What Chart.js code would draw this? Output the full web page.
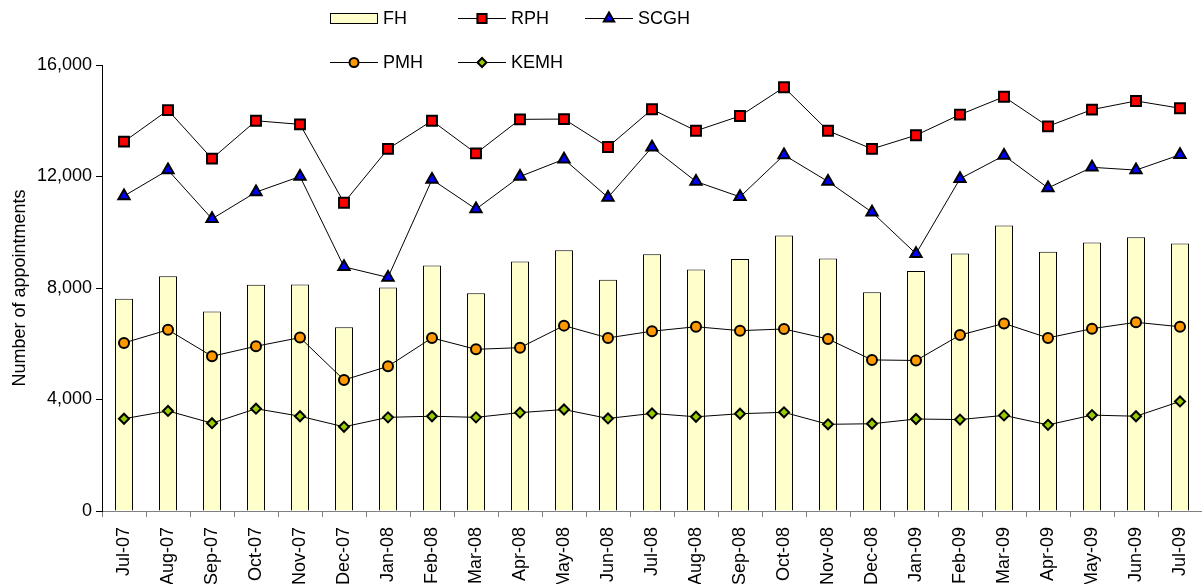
<!DOCTYPE html>
<html>
<head>
<meta charset="utf-8">
<script src="https://cdn.jsdelivr.net/npm/chart.js@4.4.1/dist/chart.umd.min.js"></script>
<style>
  html, body { margin: 0; padding: 0; background: #fff; }
  #wrap { width: 1202px; height: 584px; }
</style>
</head>
<body>
<div id="wrap"><canvas id="appt-canvas" width="1202" height="584"></canvas></div>
<script>
const months = ["Jul-07", "Aug-07", "Sep-07", "Oct-07", "Nov-07", "Dec-07", "Jan-08", "Feb-08", "Mar-08",
  "Apr-08", "May-08", "Jun-08", "Jul-08", "Aug-08", "Sep-08", "Oct-08", "Nov-08", "Dec-08", "Jan-09",
  "Feb-09", "Mar-09", "Apr-09", "May-09", "Jun-09", "Jul-09"];

const fh = [7610, 8420, 7160, 8120, 8130, 6590, 8020, 8810, 7810, 8950, 9350, 8300,
  9210, 8660, 9040, 9880, 9060, 7850, 8610, 9240, 10240, 9300, 9630, 9820, 9600];
const rph = [13250, 14380, 12640, 14000, 13870, 11060, 12990, 14000, 12830, 14050, 14060, 13060,
  14410, 13640, 14170, 15200, 13640, 12990, 13480, 14220, 14860, 13800, 14400, 14710, 14450];
const scgh = [11300, 12230, 10480, 11440, 12000, 8760, 8380, 11890, 10830, 12000, 12620, 11250,
  13050, 11820, 11270, 12770, 11820, 10720, 9230, 11920, 12750, 11590, 12330, 12230, 12780];
const pmh = [6030, 6500, 5550, 5910, 6220, 4700, 5190, 6210, 5800, 5860, 6650, 6210,
  6450, 6610, 6470, 6530, 6170, 5420, 5400, 6310, 6730, 6210, 6540, 6770, 6610];
const kemh = [3310, 3590, 3150, 3670, 3400, 3020, 3360, 3400, 3360, 3530, 3640, 3320,
  3500, 3380, 3490, 3540, 3110, 3130, 3300, 3280, 3430, 3090, 3440, 3400, 3930];

const yTicks = { min: 0, max: 16000, step: 4000 };

const FONT = '"Liberation Sans", Arial, sans-serif';
Chart.defaults.font.family = FONT;
Chart.defaults.font.size = 18;
Chart.defaults.color = "#000";

function lineSet(label, data, fill, style, radius) {
  return {
    type: "line",
    label: label,
    data: data,
    borderColor: "#000000",
    borderWidth: 1,
    tension: 0,
    pointStyle: style,
    pointRadius: radius,
    pointBackgroundColor: fill,
    pointBorderColor: "#000000",
    pointBorderWidth: 2,
    order: 0,
  };
}

// legend drawn like the excel one: line through the marker, two rows
const legendSlots = [
  { x: 330, y: 18 }, { x: 458, y: 18 }, { x: 585, y: 18 },
  { x: 330, y: 62 }, { x: 458, y: 62 },
];

const excelLegend = {
  id: "excelLegend",
  afterDraw: function (chart) {
    const ctx = chart.ctx;
    ctx.save();
    ctx.font = "18px " + FONT;
    ctx.textBaseline = "middle";
    chart.data.datasets.forEach(function (ds, i) {
      const slot = legendSlots[i];
      if (ds.type === "bar") {
        ctx.fillStyle = ds.backgroundColor;
        ctx.fillRect(slot.x, slot.y - 5, 48, 11);
        ctx.strokeStyle = "#000";
        ctx.lineWidth = 1;
        ctx.strokeRect(slot.x + 0.5, slot.y - 5 + 0.5, 47, 10);
      } else {
        ctx.strokeStyle = "#000";
        ctx.lineWidth = 1;
        ctx.beginPath();
        ctx.moveTo(slot.x, slot.y + 0.5);
        ctx.lineTo(slot.x + 48, slot.y + 0.5);
        ctx.stroke();
        ctx.fillStyle = ds.pointBackgroundColor;
        ctx.strokeStyle = "#000";
        ctx.lineWidth = 2;
        Chart.helpers.drawPoint(ctx, {
          pointStyle: ds.pointStyle,
          radius: ds.pointRadius - 0.5,
          rotation: 0,
          borderWidth: 2,
        }, slot.x + 24, slot.y + 0.5);
      }
      ctx.fillStyle = "#000";
      ctx.fillText(ds.label, slot.x + 53, slot.y + 1);
    });
    ctx.restore();
  },
};

const ctx = document.getElementById("appt-canvas").getContext("2d");
const apptChart = new Chart(ctx, {
  type: "bar",
  data: {
    labels: months,
    datasets: [
      {
        type: "bar",
        label: "FH",
        data: fh,
        backgroundColor: "#FFFFCC",
        borderColor: "#000000",
        borderWidth: 1,
        barPercentage: 0.41,
        categoryPercentage: 1.0,
        order: 10,
      },
      lineSet("RPH", rph, "#FF0000", "rect", 7),
      lineSet("SCGH", scgh, "#0000FF", "triangle", 6.5),
      lineSet("PMH", pmh, "#FF9900", "circle", 5),
      lineSet("KEMH", kemh, "#99CC00", "rectRot", 5),
    ],
  },
  options: {
    responsive: false,
    animation: false,
    devicePixelRatio: 1,
    layout: { autoPadding: false, padding: { top: 65, right: 0, left: 0, bottom: 0 } },
    plugins: {
      legend: { display: false },
      tooltip: { enabled: false },
    },
    scales: {
      x: {
        offset: true,
        grid: { drawOnChartArea: false, tickLength: 6, color: "#808080", offset: true },
        border: { color: "#808080" },
        ticks: { minRotation: 90, maxRotation: 90, autoSkip: false, padding: 10, color: "#000" },
        afterFit: function (scale) {
          scale.height = 73;
          scale.paddingLeft = 0;
          scale.paddingRight = 0;
        },
      },
      y: {
        min: yTicks.min,
        max: yTicks.max,
        grid: { drawOnChartArea: false, tickLength: 6, color: "#000" },
        border: { color: "#000" },
        ticks: { stepSize: yTicks.step, padding: 4, color: "#000" },
        title: { display: true, text: "Number of appointments", color: "#000", padding: { top: 9, bottom: 4 } },
        afterFit: function (scale) { scale.width = 102; },
      },
    },
  },
  plugins: [excelLegend],
});
</script>
</body>
</html>
